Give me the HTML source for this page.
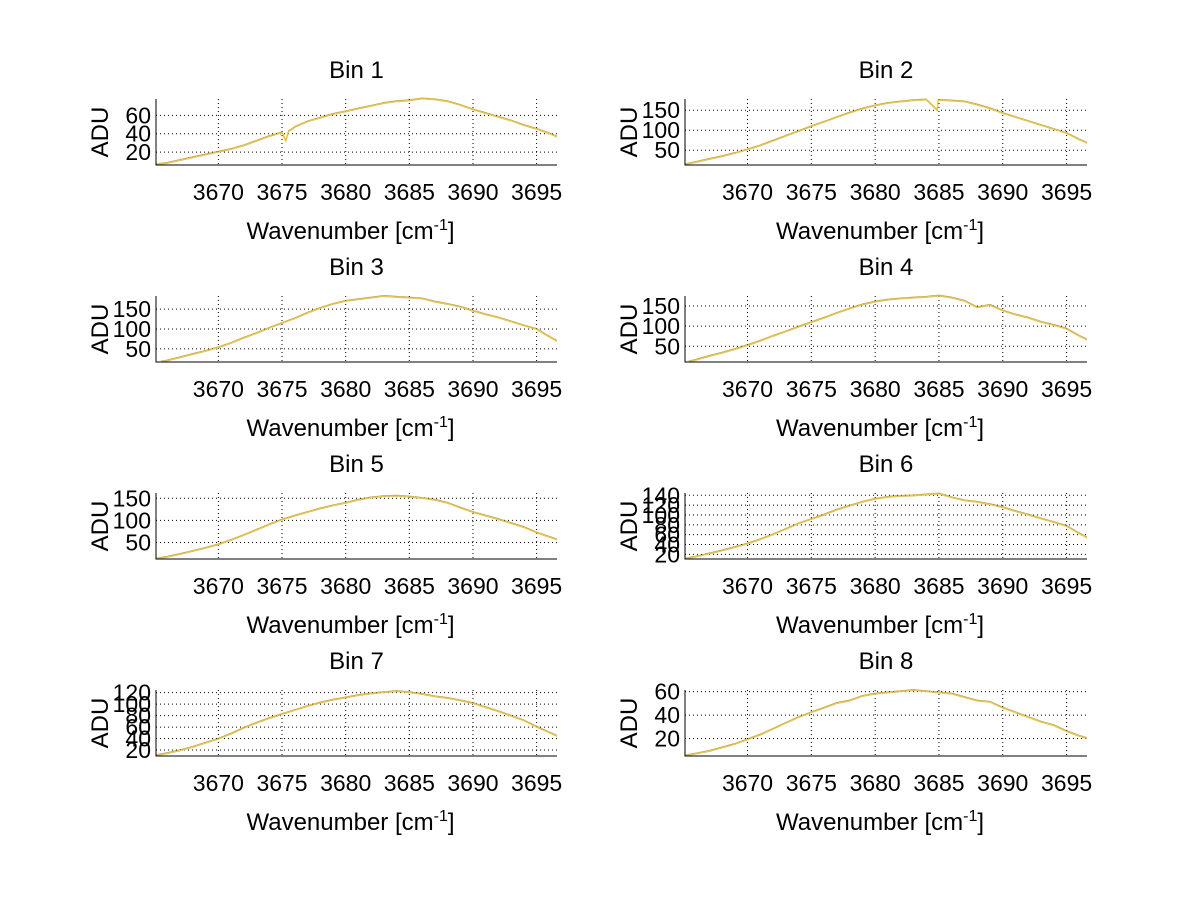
<!DOCTYPE html>
<html><head><meta charset="utf-8"><style>
body{margin:0;background:#fff;}
svg{display:block;font-family:"Liberation Sans",sans-serif;}
</style></head><body>
<svg id="fig" width="1200" height="901"></svg>
<script>
const wavenumbers = [3665,3666,3667,3668,3669,3670,3671,3672,3673,3674,3675,3676,3677,3678,3679,3680,3681,3682,3683,3684,3685,3686,3687,3688,3689,3690,3691,3692,3693,3694,3695,3696,3697];
const bin1 = [6,8,11,14,17,20,23,27,32,37,41,47,53,57,61,64,67,70,73,75,76,78,77,75,71,66,62,58,54,49,45,40,34];
const bin2 = [13,20,27,34,42,51,61,73,85,97,109,120,132,143,153,161,167,171,174,176,175,173,171,163,154,142,132,122,112,102,92,76,62];
const bin3 = [14,20,28,36,44,53,64,77,89,102,114,126,140,152,162,170,174,178,182,180,178,176,168,162,155,145,136,128,118,108,99,80,62];
const bin4 = [8,16,25,33,42,52,63,75,86,98,109,120,132,143,153,160,165,168,170,172,175,170,162,146,152,138,128,120,110,102,93,75,60];
const bin5 = [12,17,23,30,37,45,55,66,78,90,101,110,118,126,133,139,146,151,154,155,153,150,146,139,128,118,110,102,93,84,72,62,52];
const bin6 = [10,15,21,27,34,41,50,60,71,82,91,100,110,118,126,132,136,138,139,141,143,135,129,126,121,115,107,100,92,85,77,62,48];
const bin7 = [10,14,19,25,32,39,48,58,67,75,82,89,96,102,107,111,115,118,120,122,120,117,113,110,106,101,94,87,79,71,60,50,40];
const bin8 = [5,7,9,12,15,19,23,28,33,38,42,46,50,52,56,58,59,60,61,60,59,58,55,52,51,46,42,38,34,31,26,22,19];
const dipX1 = [3675.3,3675.5]; const dipV1 = [32,42];
const dipX2 = [3684.85,3684.95]; const dipV2 = [150,175];
const xTicks = [3670,3675,3680,3685,3690,3695];
const yTicks1 = [20,40,60];
const yTicks2 = [50,100,150];
const yTicks3 = [50,100,150];
const yTicks4 = [50,100,150];
const yTicks5 = [50,100,150];
const yTicks6 = [20,40,60,80,100,120,140];
const yTicks7 = [20,40,60,80,100,120];
const yTicks8 = [20,40,60];

const NS='http://www.w3.org/2000/svg';
const svg=document.getElementById('fig');
function mk(tag,attrs,parent){const e=document.createElementNS(NS,tag);for(const k in attrs)e.setAttribute(k,attrs[k]);(parent||svg).appendChild(e);return e;}

const XMIN=3665.1, XMAX=3696.6;
const panels=[
 {t:'Bin 1',v:bin1,yt:yTicks1,ymin:6,ymax:77.8,col:0,row:0,dx:dipX1,dv:dipV1},
 {t:'Bin 2',v:bin2,yt:yTicks2,ymin:13,ymax:178,col:1,row:0,dx:dipX2,dv:dipV2},
 {t:'Bin 3',v:bin3,yt:yTicks3,ymin:17,ymax:183,col:0,row:1},
 {t:'Bin 4',v:bin4,yt:yTicks4,ymin:11,ymax:175,col:1,row:1},
 {t:'Bin 5',v:bin5,yt:yTicks5,ymin:12.6,ymax:162,col:0,row:2},
 {t:'Bin 6',v:bin6,yt:yTicks6,ymin:10.6,ymax:144.6,col:1,row:2},
 {t:'Bin 7',v:bin7,yt:yTicks7,ymin:9.6,ymax:124.6,col:0,row:3},
 {t:'Bin 8',v:bin8,yt:yTicks8,ymin:5.1,ymax:61.4,col:1,row:3}
];
panels.forEach((p,i)=>{
  const x0=p.col?685:156, x1=p.col?1087:557;
  const y0=99+p.row*197, y1=y0+66;
  const g=mk('g',{});
  
  
  const sx=v=>x0+(v-XMIN)/(XMAX-XMIN)*(x1-x0);
  const sy=v=>y1-(v-p.ymin)/(p.ymax-p.ymin)*(y1-y0);
  const cid='clip'+i;
  const cp=mk('clipPath',{id:cid},g); mk('rect',{x:x0,y:y0-2,width:x1-x0,height:y1-y0+2},cp);
  xTicks.forEach(t=>{const l=mk('line',{x1:sx(t),x2:sx(t),y1:y0,y2:y1,stroke:'#000','stroke-width':1,'stroke-dasharray':'1,3'},g);
    
    
    const tx=mk('text',{x:sx(t),y:y1+35,'font-size':23,'text-anchor':'middle'},g);tx.textContent=t;
    
    });
  p.yt.forEach(t=>{const l=mk('line',{x1:x0,x2:x1,y1:sy(t),y2:sy(t),stroke:'#000','stroke-width':1,'stroke-dasharray':'1,3'},g);
    
    
    const tx=mk('text',{x:x0-5,y:sy(t)+8,'font-size':23,'text-anchor':'end'},g);tx.textContent=t;
    
    });
  let pts=wavenumbers.map((w,k)=>[w,p.v[k]]);
  if(p.dx){p.dx.forEach((w,k)=>pts.push([w,p.dv[k]]));pts.sort((a,b)=>a[0]-b[0]);}
  const d=pts.map((q,k)=>(k?'L':'M')+sx(q[0]).toFixed(1)+','+sy(q[1]).toFixed(1)).join('');
  const sh=mk('path',{d:d,fill:'none',stroke:'#3a3a70','stroke-width':0.7,'stroke-opacity':0.5,transform:'translate(0,-1)','clip-path':'url(#'+cid+')'},g);
  
  
  const ln=mk('path',{d:d,fill:'none',stroke:'#f2c61f','stroke-width':1.3,'clip-path':'url(#'+cid+')'},g);
  
  
  const ax=mk('path',{d:`M${x0},${y0}V${y1}H${x1}`,fill:'none',stroke:'#000','stroke-width':1},g);
  
  
  const tt=mk('text',{x:(x0+x1)/2,y:y0-21,'font-size':24,'text-anchor':'middle'},g);tt.textContent=p.t;
  
  
  const xl=mk('text',{x:(x0+x1)/2-6,y:y1+74,'font-size':24,'text-anchor':'middle'},g);
  xl.innerHTML='Wavenumber [cm<tspan dy="-9" font-size="16">-1</tspan><tspan dy="9">]</tspan>';
  
  
  const yl=mk('text',{x:0,y:0,'font-size':24,'text-anchor':'middle',transform:`translate(${x0-48},${(y0+y1)/2}) rotate(-90)`},g);yl.textContent='ADU';
  
  
});
</script>
</body></html>
